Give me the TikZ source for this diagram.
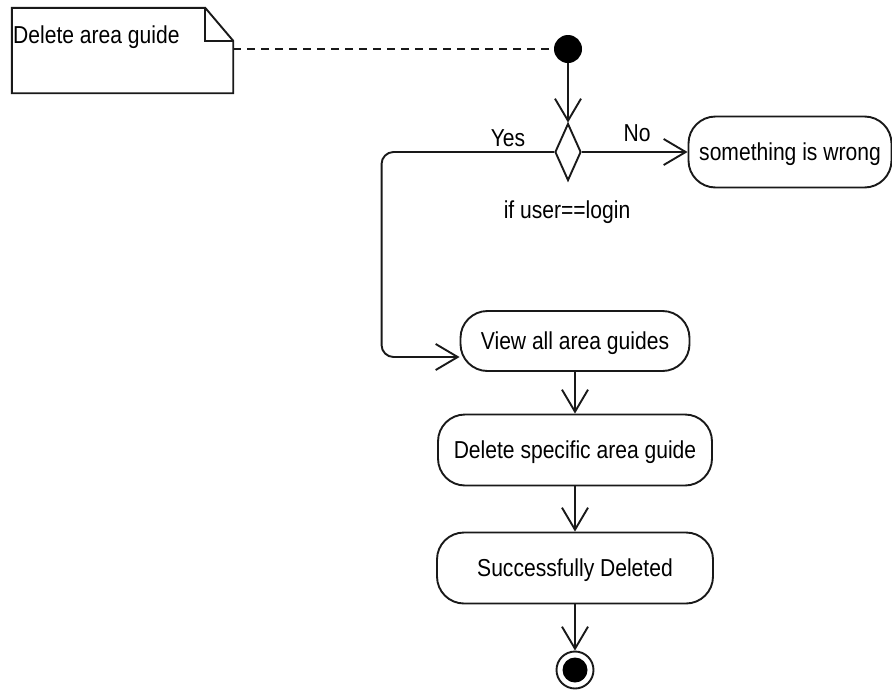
\documentclass[tikz,border=0pt]{standalone}
\usepackage{fontspec}
\setmainfont{Liberation Sans}[FakeStretch=0.86]
\usetikzlibrary{shapes.geometric,arrows.meta,calc}
\begin{document}
\begin{tikzpicture}[x=1pt,y=-1pt,
  every node/.style={font=\fontsize{24.5}{28}\selectfont, text=black},
  ln/.style={line width=1.9pt, draw=black!90},
  arr/.style={ln, -{Straight Barb[length=22pt,width=26pt,line width=1.9pt]}},
  act/.style={ln, rectangle, rounded corners=27pt, inner sep=0pt, text height=20pt, text depth=2.4pt},
]
\useasboundingbox (0,0) rectangle (892,691);
% note
\node[minimum width=221pt, minimum height=85pt, inner sep=0pt] (note) at (122.5,50.5) {};
\draw[ln, line join=miter] (note.south west) -- (note.north west) -- ([xshift=-28pt]note.north east)
  -- ([yshift=-33pt]note.north east) -- (note.south east) -- cycle;
\draw[ln] ([xshift=-28pt]note.north east) |- ([yshift=-33pt]note.north east);
\node[anchor=west, inner sep=0pt] (notetext) at (13,37) {Delete area guide};
% start
\node[circle, fill=black, minimum size=28pt, inner sep=0pt] (start) at (568,49) {};
\draw[ln, dashed, dash pattern=on 8pt off 6pt] (note.east |- start) -- (start);
% decision
\node[ln, diamond, minimum width=26pt, minimum height=57pt, inner sep=0pt] (dec) at (568,152) {};
\draw[arr] (start) -- (dec.north);
\node (yes) at (508,138) {Yes};
\node (no) at (637,133) {No};
\node (cond) at (567,212) {if user==login};
% wrong
\node[act, minimum width=203pt, minimum height=71pt] (wrong) at (790,152) {something is wrong};
\draw[arr] (dec.east) -- (wrong.west);
% activities
\node[act, minimum width=229pt, minimum height=60pt] (view) at (575,341) {View all area guides};
\coordinate (viewin) at ($(view.west)+(0,16)$);
\draw[arr, rounded corners=12pt] (dec.west) -| ($(viewin)+(-78,0)$) -- (viewin);
\node[act, minimum width=274pt, minimum height=71pt] (del) at (575,450) {Delete specific area guide};
\draw[arr] (view.south) -- (del.north);
\node[act, minimum width=276pt, minimum height=71pt] (succ) at (575,568) {Successfully Deleted};
\draw[arr] (del.south) -- (succ.north);
% end
\node[ln, circle, minimum size=37pt, inner sep=0pt] (final) at (575,670) {};
\node[circle, fill=black, minimum size=25pt, inner sep=0pt] (finalin) at (final.center) {};
\draw[arr] (succ.south) -- (final.north);
\end{tikzpicture}
\end{document}
